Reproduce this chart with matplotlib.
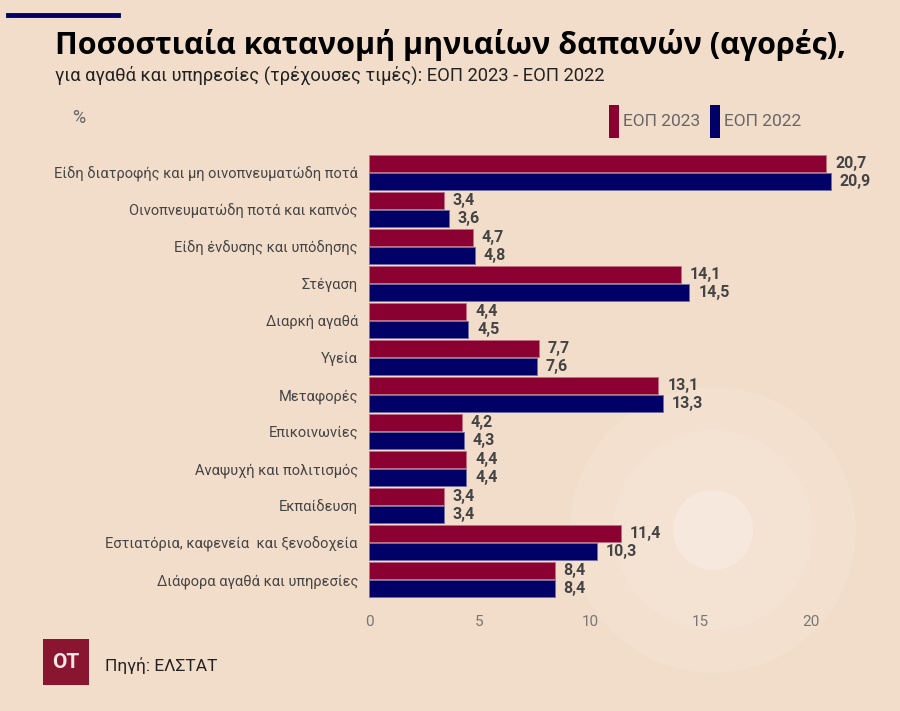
import numpy as np
import matplotlib.pyplot as plt
from matplotlib.patches import Ellipse, Rectangle

categories = ["Είδη διατροφής και μη οινοπνευματώδη ποτά",
              "Οινοπνευματώδη ποτά και καπνός",
              "Είδη ένδυσης και υπόδησης",
              "Στέγαση",
              "Διαρκή αγαθά",
              "Υγεία",
              "Μεταφορές",
              "Επικοινωνίες",
              "Αναψυχή και πολιτισμός",
              "Εκπαίδευση",
              "Εστιατόρια, καφενεία  και ξενοδοχεία",
              "Διάφορα αγαθά και υπηρεσίες"]
eop_2023 = [20.7, 3.4, 4.7, 14.1, 4.4, 7.7, 13.1, 4.2, 4.4, 3.4, 11.4, 8.4]
eop_2022 = [20.9, 3.6, 4.8, 14.5, 4.5, 7.6, 13.3, 4.3, 4.4, 3.4, 10.3, 8.4]
xticks = [0, 5, 10, 15, 20]

bg = "#f2ddca"
red = "#8a0030"
navy = "#000066"

fig = plt.figure(figsize=(9, 7.11), dpi=100, facecolor=bg)
plt.rcParams['font.family'] = ['Roboto', 'DejaVu Sans']

# soft circles in the background
W, H = 900, 711
for r, c in [(143, "#f3e0ce"), (100, "#f4e3d3"), (40, "#f6e8dc")]:
    fig.add_artist(Ellipse((713 / W, 1 - 530 / H), 2 * r / W, 2 * r / H,
                           transform=fig.transFigure, color=c, lw=0, zorder=0))

ax = fig.add_axes([369 / W, 1 - 598 / H, (833 - 369) / W, (598 - 154) / H])
ax.set_facecolor("none")
y = np.arange(len(categories))
h = 0.47
ax.barh(y - 0.245, eop_2023, height=h, color=red, edgecolor="#c07080", linewidth=0.6)
ax.barh(y + 0.245, eop_2022, height=h, color=navy, edgecolor="#7070a0", linewidth=0.6)

for i in range(len(categories)):
    ax.text(eop_2023[i] + 0.4, y[i] - 0.245, f"{eop_2023[i]:.1f}".replace(".", ","),
            va="center", ha="left", fontsize=11.5, fontweight="bold", color="#444444")
    ax.text(eop_2022[i] + 0.4, y[i] + 0.245, f"{eop_2022[i]:.1f}".replace(".", ","),
            va="center", ha="left", fontsize=11.5, fontweight="bold", color="#444444")

ax.set_ylim(len(categories) - 0.5, -0.5)
ax.set_xlim(0, 21)
ax.set_yticks(y)
ax.set_yticklabels(categories, fontsize=10.5, color="#444444")
ax.set_xticks(xticks)
ax.set_xticklabels([str(t) for t in xticks], fontsize=11, color="#777777")
ax.tick_params(length=0)
ax.tick_params(axis="y", pad=8)
ax.tick_params(axis="x", pad=12)
for s in ax.spines.values():
    s.set_visible(False)

# header
fig.add_artist(plt.Line2D([8 / W, 118 / W], [1 - 15 / H] * 2, color=navy, lw=3.5,
                          transform=fig.transFigure))
fig.text(55 / W, 1 - 45 / H, "Ποσοστιαία κατανομή μηνιαίων δαπανών (αγορές),",
         fontsize=22, fontweight="bold", color="black", va="center",
         family=["Open Sans", "DejaVu Sans"])
fig.text(55 / W, 1 - 75 / H, "για αγαθά και υπηρεσίες (τρέχουσες τιμές): ΕΟΠ 2023 - ΕΟΠ 2022",
         fontsize=13.2, color="#222222", va="center")
fig.text(72 / W, 1 - 118 / H, "%", fontsize=13, color="#666666", va="center")

# legend
fig.add_artist(Rectangle((609 / W, 1 - 138 / H), 10 / W, 33 / H, transform=fig.transFigure,
                         color=red, lw=0))
fig.text(623 / W, 1 - 122 / H, "ΕΟΠ 2023", fontsize=12.5, color="#666666", va="center")
fig.add_artist(Rectangle((710 / W, 1 - 138 / H), 10 / W, 33 / H, transform=fig.transFigure,
                         color=navy, lw=0))
fig.text(724 / W, 1 - 122 / H, "ΕΟΠ 2022", fontsize=12.5, color="#666666", va="center")

# footer
fig.add_artist(Rectangle((43 / W, 1 - 685 / H), 46 / W, 46 / H, transform=fig.transFigure,
                         color="#8a1530", lw=0))
fig.text(66 / W, 1 - 662 / H, "OT", fontsize=15, fontweight="bold", color="#f5e6e6",
         ha="center", va="center")
fig.text(105 / W, 1 - 666 / H, "Πηγή: ΕΛΣΤΑΤ", fontsize=12.5, color="#222222", va="center")

fig.savefig("out.png", dpi=100, facecolor=bg)
